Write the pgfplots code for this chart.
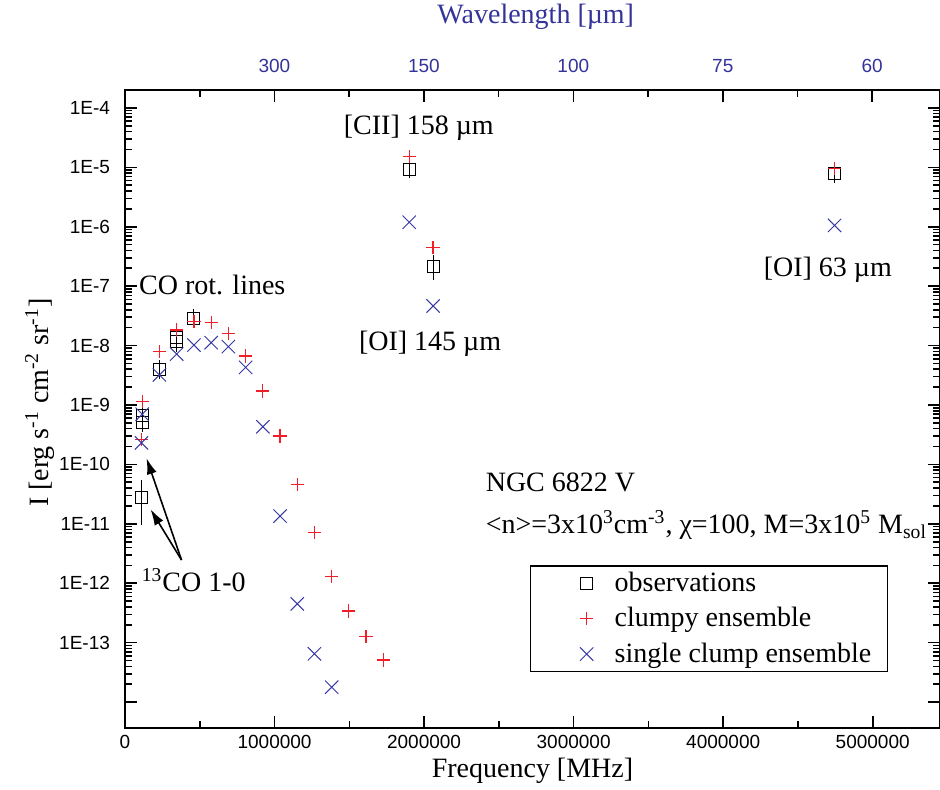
\documentclass[border=0pt]{standalone}
\usepackage{fontspec}
\setmainfont{Liberation Serif}
\newfontfamily\sansf{Liberation Sans}
\usepackage{pgfplots}
\pgfplotsset{compat=1.18}
\usetikzlibrary{arrows.meta}
\definecolor{topblue}{RGB}{51,51,153}
\definecolor{xblue}{RGB}{55,55,165}
\definecolor{pred}{RGB}{240,30,40}
\newcommand{\bigtxt}{\fontsize{14}{17}\selectfont}
\pgfplotsset{myleg/.style={legend image code/.code={
    \path[draw=none] (0pt,0pt) -- (34pt,0pt);
    \path[draw=none] plot coordinates {(22pt,0pt)};}}}

\begin{document}
\begin{tikzpicture}
\path[use as bounding box] (-62.5pt,-30.5pt) rectangle (407.5pt,364pt);

% top axis: wavelength
\begin{axis}[
  at={(0,0)}, anchor=south west,
  scale only axis, width=407.5pt, height=319pt,
  xmin=0, xmax=5.45e6, ymin=0, ymax=1,
  hide y axis, scaled x ticks=false,
  xtick pos=top, xticklabel pos=upper,
  xtick={999308,1998617,2997925,3997233,4996541},
  xticklabels={300,150,100,75,60},
  minor xtick={499654,1498962,2498271,3497579,4496887},
  tick align=inside,
  major tick length=6pt, minor tick length=3.5pt,
  every tick/.style={black, line width=0.8pt},
  axis line style={line width=1pt},
  ticklabel style={font=\sansf\fontsize{9.5}{11}\selectfont, text=topblue},
  xticklabel style={yshift=5pt},
  xlabel={Wavelength [µm]},
  xlabel style={at={(axis description cs:0.504,1.1144)}, anchor=center, font=\bigtxt, text=topblue},
]
\addplot[draw=none] coordinates {(1000000,0.5)};
\end{axis}

\begin{axis}[
  at={(0,0)}, anchor=south west,
  scale only axis, width=407.5pt, height=319pt,
  xmin=0, xmax=5.45e6, scaled x ticks=false,
  ymode=log, ymin=3.66e-15, ymax=2.0e-4,
  xtick={0,1000000,2000000,3000000,4000000,5000000},
  xticklabels={0,1000000,2000000,3000000,4000000,5000000},
  minor xtick={500000,1500000,2500000,3500000,4500000},
  xtick pos=bottom,
  ytick={1e-14,1e-13,1e-12,1e-11,1e-10,1e-9,1e-8,1e-7,1e-6,1e-5,1e-4},
  yticklabels={,1E-13,1E-12,1E-11,1E-10,1E-9,1E-8,1E-7,1E-6,1E-5,1E-4},
  tick align=inside,
  major tick length=6pt, minor tick length=3.5pt,
  every tick/.style={black, line width=0.8pt},
  axis line style={line width=1pt},
  ticklabel style={font=\sansf\fontsize{9.5}{11}\selectfont},
  yticklabel style={xshift=-4pt},
  xlabel={Frequency [MHz]},
  ylabel={I [erg s\textsuperscript{-1} cm\textsuperscript{-2} sr\textsuperscript{-1}]},
  label style={font=\bigtxt},
  xlabel style={at={(axis description cs:0.5,-0.0674)}, anchor=center},
  ylabel style={at={(axis description cs:-0.1043,0.51)}, anchor=center},
  legend style={at={(0.936,0.088)}, anchor=south east, font=\bigtxt,
    draw=black, line width=0.6pt, inner xsep=6pt, inner ysep=1pt,
    row sep=2.5pt},
  legend cell align=left,
]

% observations
\addplot[only marks, mark=square, mark size=3pt, black, line width=0.5pt, myleg,
  error bars/.cd, y dir=both, y explicit,
  error mark options={black, mark size=3pt, line width=0.5pt},
  error bar style={black, line width=0.5pt}]
coordinates {
  (110201, 2.8e-11)  +- (0, 1.6e-11)
  (115271, 6.6e-10)  +- (0, 0.8e-10)
  (115271, 5.1e-10)  +- (0, 0.6e-10)
  (230538, 4.0e-9)   +- (0, 0.5e-9)
  (345796, 1.35e-8)  +- (0, 1.5e-9)
  (345796, 1.15e-8)  +- (0, 1.5e-9)
  (461041, 2.9e-8)   +- (0, 0.35e-8)
  (1900537, 9.3e-6)  +- (0, 1.1e-6)
  (2060069, 2.13e-7) +- (0, 0.55e-7)
  (4744777, 7.9e-6)  +- (0, 1.0e-6)
};

% clumpy ensemble
\addplot[only marks, mark=+, mark size=3.3pt, pred, line width=0.6pt, myleg]
coordinates {
  (110201, 2.6e-10) (115271, 1.14e-9) (230538, 7.9e-9) (345796, 1.83e-8)
  (461041, 2.53e-8) (576268, 2.45e-8) (691473, 1.6e-8) (806652, 6.7e-9)
  (921800, 1.72e-9) (1036912, 3.0e-10) (1151985, 4.6e-11) (1267014, 7.1e-12)
  (1381995, 1.29e-12) (1496923, 3.4e-13) (1611794, 1.26e-13) (1726603, 5.1e-14)
  (1900537, 1.5e-5) (2060069, 4.45e-7) (4744777, 9.7e-6)
};

% single clump ensemble
\addplot[only marks, mark=x, mark size=4.7pt, xblue, line width=0.5pt, myleg]
coordinates {
  (110201, 2.3e-10) (115271, 7.0e-10) (230538, 3.2e-9) (345796, 7.2e-9)
  (461041, 1.02e-8) (576268, 1.12e-8) (691473, 9.6e-9) (806652, 4.3e-9)
  (921800, 4.3e-10) (1036912, 1.35e-11) (1151985, 4.5e-13) (1267014, 6.5e-14)
  (1381995, 1.78e-14) (1900537, 1.19e-6) (2060069, 4.64e-8) (4744777, 1.05e-6)
};

\legend{observations, clumpy ensemble, single clump ensemble}

\node[font=\bigtxt] at (axis cs:1965000,4.6e-5) {[CII] 158 µm};
\node[font=\bigtxt] at (axis cs:2040000,1.07e-8) {[OI] 145 µm};
\node[font=\bigtxt] at (axis cs:4700000,1.87e-7) {[OI] 63 µm};
\node[font=\bigtxt, anchor=west, inner sep=0pt] at (axis cs:92000,1.05e-7) {CO rot. lines};
\node[font=\bigtxt, anchor=west, inner sep=0pt] at (axis cs:110000,1.13e-12) {\textsuperscript{13}CO 1-0};
\node[font=\bigtxt, anchor=west, inner sep=0pt] at (axis cs:2410000,4.9e-11) {NGC 6822 V};
\node[font=\bigtxt, anchor=west, inner sep=0pt] at (axis cs:2410000,9.5e-12)
  {<n>=3x10\textsuperscript{3}cm\textsuperscript{-3}, χ=100, M=3x10\textsuperscript{5} M\textsubscript{sol}};

\draw[-{Latex[length=8pt,width=5pt]}, line width=0.8pt]
  (axis cs:378000,2.46e-12) -- (axis cs:144000,1.27e-10);
\draw[-{Latex[length=8pt,width=5pt]}, line width=0.8pt]
  (axis cs:378000,2.46e-12) -- (axis cs:171000,1.75e-11);
\end{axis}
\end{tikzpicture}
\end{document}
